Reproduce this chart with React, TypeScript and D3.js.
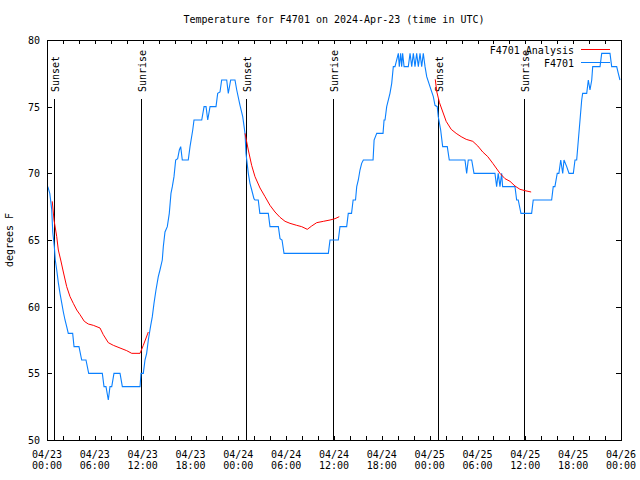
import React from "react";
import * as d3 from "d3";

// hours since 2024-04-23 00:00 UTC, temperature (°F)
const stationObs: [number, number][] = [
  [0.1, 69], [0.35, 68.5], [0.59, 67.3], [0.72, 65.6], [0.92, 64.5], [1.04, 63.5],
  [1.22, 62.75], [1.42, 61.8], [1.63, 61], [1.84, 60.3], [2.05, 59.6], [2.26, 59],
  [2.47, 58.5], [2.67, 58], [3.22, 58], [3.39, 57], [4.01, 57], [4.35, 56], [4.89, 56],
  [5.23, 55], [6.94, 55], [7.15, 54], [7.4, 54], [7.69, 53], [7.9, 54], [8.12, 54],
  [8.4, 55], [9.16, 55], [9.45, 54], [11.67, 54], [11.79, 55], [12.08, 55], [12.29, 56],
  [12.5, 56.5], [12.71, 57.5], [13.01, 58.6], [13.21, 59.25], [13.42, 60.25], [13.67, 61.25],
  [13.96, 62.25], [14.17, 62.75], [14.46, 63.5], [14.59, 64.5], [14.8, 65.6], [15.09, 66],
  [15.34, 67], [15.55, 68.5], [15.72, 69], [15.93, 69.75], [16.14, 71], [16.39, 71.1],
  [16.6, 71.75], [16.77, 72], [16.97, 71], [17.72, 71], [17.94, 72], [18.28, 73.25],
  [18.44, 74], [19.41, 74], [19.7, 75], [19.95, 75], [20.16, 74], [20.45, 75], [21.2, 75],
  [21.41, 76], [21.7, 76.1], [21.91, 77], [22.54, 77], [22.74, 76], [23.04, 77], [23.58, 77],
  [23.8, 76.25], [24.21, 75.1], [24.55, 74.25], [24.84, 73], [24.96, 71.5], [25.25, 70],
  [25.46, 69.25], [25.68, 68.75], [25.96, 68.1], [26.09, 68], [26.5, 68], [26.7, 67],
  [27.76, 67], [27.97, 66], [29.02, 66], [29.23, 65.1], [29.48, 65], [29.73, 64],
  [35.29, 64], [35.5, 65], [36.54, 65], [36.75, 66], [37.59, 66], [37.79, 67], [38.2, 67],
  [38.4, 68], [38.7, 68], [38.85, 69], [39.05, 69.5], [39.26, 70.25], [39.47, 70.75],
  [39.68, 71], [40.9, 71], [41.03, 72.5], [41.36, 73], [42.15, 73], [42.28, 74], [42.4, 74],
  [42.61, 75], [43.02, 76], [43.24, 76.75], [43.44, 78], [43.65, 78], [44.07, 79],
  [44.19, 78], [44.36, 79], [44.49, 78], [44.61, 79], [44.79, 78], [45.32, 78], [45.54, 79],
  [45.75, 78], [45.95, 79], [46.16, 78], [46.37, 79], [46.58, 78], [46.79, 79], [47.0, 78],
  [47.2, 79], [47.42, 78], [47.63, 77.25], [48.04, 76.5], [48.46, 75.75], [48.67, 75.1],
  [48.95, 75], [49.08, 74.25], [49.38, 73.25], [49.63, 72], [50.21, 72], [50.46, 71],
  [52.43, 71], [52.64, 70], [52.84, 71], [53.27, 71], [53.56, 70], [56.19, 70], [56.4, 69],
  [56.6, 70], [56.82, 69], [57.03, 70], [57.15, 69], [58.7, 69], [58.91, 68], [59.11, 68],
  [59.45, 67], [60.79, 67], [60.99, 68], [63.3, 68], [63.5, 69], [63.71, 69], [64.0, 70],
  [64.21, 70], [64.44, 71], [64.69, 70], [64.85, 71], [65.19, 70.5], [65.48, 70],
  [66.02, 70], [66.23, 71], [66.44, 71], [66.65, 72.5], [66.86, 74], [67.07, 75.5],
  [67.19, 76], [67.7, 76], [67.9, 77], [68.11, 76.25], [68.33, 77], [68.45, 78], [69.37, 78],
  [69.58, 79], [70.62, 79], [70.83, 78], [71.46, 78], [71.66, 77.5], [71.87, 77],
];

const analysisNight1: [number, number][] = [
  [0.66, 67.9], [0.88, 66.5], [1.22, 65.25], [1.42, 64.25], [1.72, 63.5], [2.05, 62.6],
  [2.47, 61.5], [2.89, 60.75], [3.3, 60.25], [3.73, 59.75], [4.14, 59.4], [4.68, 58.9],
  [5.18, 58.7], [5.81, 58.6], [6.65, 58.4], [7.06, 57.9], [7.69, 57.3], [8.32, 57.1],
  [9.16, 56.9], [10.0, 56.7], [10.63, 56.5], [11.67, 56.5], [12.08, 57.1], [12.71, 58.1],
];
const analysisNight2: [number, number][] = [
  [24.84, 73], [25.25, 71.75], [25.67, 70.6], [26.09, 69.75], [26.72, 68.9], [27.35, 68.25],
  [27.97, 67.6], [28.6, 67.1], [29.23, 66.7], [29.86, 66.4], [30.48, 66.25], [31.32, 66.1],
  [31.95, 66], [32.65, 65.8], [33.2, 66.05], [33.83, 66.3], [34.66, 66.4], [35.5, 66.5],
  [36.13, 66.6], [36.66, 66.75],
];
const analysisNight3: [number, number][] = [
  [48.7, 77.05], [48.9, 76.1], [49.23, 75.3], [49.65, 74.6], [50.07, 73.9], [50.7, 73.3],
  [51.32, 73], [51.95, 72.75], [52.58, 72.55], [53.41, 72.4], [54.04, 72.05], [54.66, 71.6],
  [55.29, 71.25], [55.92, 70.75], [56.34, 70.4], [56.82, 70], [57.45, 69.6], [58.08, 69.4],
  [58.7, 69.05], [59.33, 68.8], [59.96, 68.7], [60.73, 68.6],
];

const sunEvents = [
  { label: "Sunset", h: 0.92 },
  { label: "Sunrise", h: 11.83 },
  { label: "Sunset", h: 25.0 },
  { label: "Sunrise", h: 35.91 },
  { label: "Sunset", h: 49.08 },
  { label: "Sunrise", h: 59.87 },
];

const yTicks = [50, 55, 60, 65, 70, 75, 80];
const title = "Temperature for F4701 on 2024-Apr-23 (time in UTC)";
const seriesNames = ["F4701 Analysis", "F4701"];

const START = Date.UTC(2024, 3, 23, 0, 0);
const toDate = (h: number) => new Date(START + h * 3600e3);

const W = 640, H = 480;
const L = 47, R = 621, T = 40, B = 440;
const FONT = "DejaVu Sans Mono";
const BLUE = "#0a80ff";
const RED = "#ff0000";

export default function App() {
  const x = d3.scaleUtc().domain([toDate(0), toDate(72)]).range([L, R]);
  const y = d3.scaleLinear().domain([50, 80]).range([B, T]);
  const line = d3
    .line<[number, number]>()
    .x((d) => x(toDate(d[0])))
    .y((d) => y(d[1]));

  const minor = d3.utcHour.every(2)!.range(toDate(0), toDate(72.01));
  const major = d3.utcHour.every(6)!.range(toDate(0), toDate(72.01));
  const fmtDate = d3.utcFormat("%m/%d");
  const fmtTime = d3.utcFormat("%H:%M");

  return (
    <svg
      width={W}
      height={H}
      style={{ position: "absolute", left: 0, top: 0, background: "#fff" }}
      fontFamily={FONT}
      fontSize={10}
    >
      <rect x={0} y={0} width={W} height={H} fill="#fff" />
      <text x={(L + R) / 2} y={23} textAnchor="middle" fill="#000">
        {title}
      </text>

      {/* axis ticks */}
      <g stroke="#000" shapeRendering="crispEdges">
        {yTicks.map((t) => (
          <g key={t}>
            <line x1={L} x2={L + 5} y1={Math.round(y(t)) + 0.5} y2={Math.round(y(t)) + 0.5} />
            <line x1={R - 5} x2={R} y1={Math.round(y(t)) + 0.5} y2={Math.round(y(t)) + 0.5} />
          </g>
        ))}
        {minor.map((d, i) => {
          const px = Math.round(x(d)) + 0.5;
          return (
            <g key={i}>
              <line x1={px} x2={px} y1={B} y2={B - 4} />
              <line x1={px} x2={px} y1={T} y2={T + 4} />
            </g>
          );
        })}
      </g>

      {yTicks.map((t) => (
        <text key={t} x={40} y={y(t) + 4} textAnchor="end" fill="#000">
          {t}
        </text>
      ))}
      {major.map((d, i) => (
        <text key={i} x={x(d)} textAnchor="middle" fill="#000">
          <tspan x={x(d)} y={457.5}>{fmtDate(d)}</tspan>
          <tspan x={x(d)} y={468.5}>{fmtTime(d)}</tspan>
        </text>
      ))}
      <text transform={`translate(13,${(T + B) / 2}) rotate(-90)`} textAnchor="middle" fill="#000">
        degrees F
      </text>

      {/* sunrise / sunset markers */}
      {sunEvents.map((e, i) => {
        const px = Math.round(x(toDate(e.h))) + 0.5;
        return (
          <g key={i}>
            <line x1={px} x2={px} y1={99} y2={B} stroke="#000" shapeRendering="crispEdges" />
            <text transform={`translate(${px + 4.5},92) rotate(-90)`} fill="#000">
              {e.label}
            </text>
          </g>
        );
      })}

      {/* data */}
      <path d={line(stationObs) || ""} fill="none" stroke={BLUE} strokeWidth={1.1} />
      {[analysisNight1, analysisNight2, analysisNight3].map((s, i) => (
        <path key={i} d={line(s) || ""} fill="none" stroke={RED} strokeWidth={1} />
      ))}

      {/* legend */}
      <text x={574} y={54} textAnchor="end" fill="#000">{seriesNames[0]}</text>
      <line x1={581} x2={610} y1={49.5} y2={49.5} stroke={RED} shapeRendering="crispEdges" />
      <text x={574} y={67} textAnchor="end" fill="#000">{seriesNames[1]}</text>
      <line x1={581} x2={610} y1={62.5} y2={62.5} stroke={BLUE} shapeRendering="crispEdges" />

      {/* frame */}
      <rect
        x={L + 0.5}
        y={T + 0.5}
        width={R - L}
        height={B - T}
        fill="none"
        stroke="#000"
        shapeRendering="crispEdges"
      />
    </svg>
  );
}
